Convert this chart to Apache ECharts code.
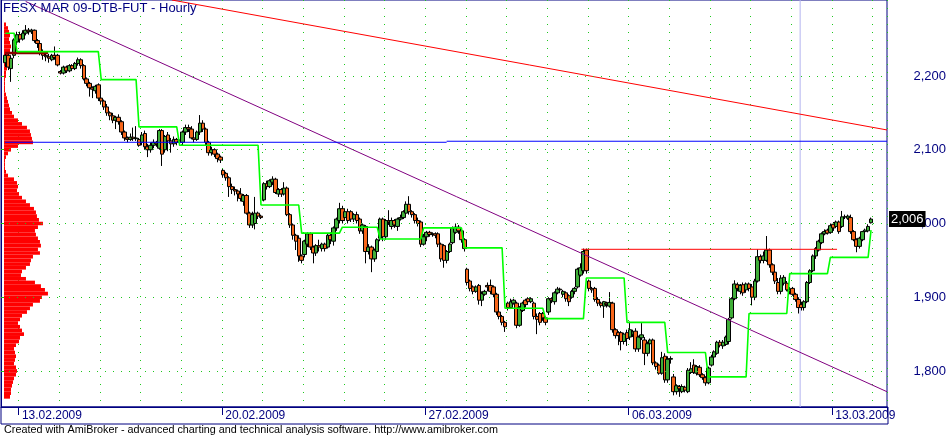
<!DOCTYPE html>
<html><head><meta charset="utf-8">
<script src="https://cdn.jsdelivr.net/npm/echarts@6/dist/echarts.min.js"></script>
<style>html,body{margin:0;padding:0;background:#fff}#c{width:949px;height:437px}</style>
</head><body><div id="c"></div>
<script>
// ---------- DATA ----------
const days = ['12.02.2009','13.02.2009','16.02.2009','17.02.2009','18.02.2009','19.02.2009','20.02.2009','23.02.2009','24.02.2009','25.02.2009','26.02.2009','27.02.2009','02.03.2009','03.03.2009','04.03.2009','05.03.2009','06.03.2009','09.03.2009','10.03.2009','11.03.2009','12.03.2009','13.03.2009'];
const firstDayHours = ['17','18','19','20','21'];
const sessionHours = ['08','09','10','11','12','13','14','15','16','17','18','19','20','21'];
const labelledDays = ['13.02.2009','20.02.2009','27.02.2009','06.03.2009','13.03.2009'];
const gridLevels = [1800,1900,2000,2100,2200];

const opens = [
2218,2228,2210,2228,2246,
2256,2250,2258,2262,2260,2262,2248,2244,2232,2228,2226,2222,2228,2228,
2206,2204,2212,2207,2214,2210,2217,2222,2214,2196,2190,2184,2180,2188,
2170,2166,2158,2150,2146,2140,2144,2138,2124,2116,2114,2117,2115,2114,
2110,2122,2104,2100,2106,2110,2102,2126,2100,2120,2112,2108,2114,2110,
2110,2124,2130,2128,2116,2114,2124,2136,2128,2110,2096,2100,2094,2090,
2072,2068,2062,2050,2046,2044,2040,2030,2038,2014,1998,2000,2014,2010,
2032,2054,2050,2056,2060,2040,2046,2040,2048,2012,1998,1984,1980,1956,
1958,1972,1986,1968,1960,1970,1966,1972,1968,1984,1976,1994,2004,2020,
2008,2016,2016,2006,2012,2006,1990,1996,1962,1968,1952,1962,1980,2006,
1982,2004,1996,2004,1996,2006,2008,2014,2026,2016,2012,2004,2002,1972,
1982,1988,1985,1986,1986,1972,1970,1950,1962,1974,1988,1995,1990,1978,
1938,1922,1914,1908,1916,1896,1904,1916,1916,1914,1904,1880,1874,1866,
1892,1886,1892,1892,1862,1882,1896,1898,1894,1892,1874,1878,1878,1872,
1880,1898,1894,1906,1911,1904,1906,1902,1900,1908,1914,1930,1936,1964,
1922,1912,1912,1897,1892,1888,1892,1888,1892,1856,1852,1852,1840,1852,
1846,1850,1854,1830,1845,1842,1824,1837,1842,1811,1808,1797,1820,1788,
1816,1792,1772,1779,1772,1778,1772,1798,1808,1797,1805,1795,1791,1784,
1808,1819,1824,1839,1834,1836,1840,1872,1898,1917,1908,1917,1910,1918,
1914,1900,1922,1955,1950,1950,1964,1944,1934,1920,1908,1919,1919,1910,
1912,1904,1897,1890,1886,1894,1920,1936,1956,1964,1974,1986,1991,1988,
1999,1996,2002,1996,2009,2007,2008,1989,1978,1969,1978,1989,1990,2001];
const highs = [
2230,2232,2226,2251,2260,
2260,2262,2269,2265,2264,2263,2250,2246,2236,2232,2230,2230,2240,2230,
2208,2214,2214,2216,2216,2219,2225,2224,2216,2198,2192,2186,2188,2190,
2172,2168,2162,2152,2150,2146,2148,2140,2126,2118,2122,2130,2132,2116,
2124,2126,2108,2110,2114,2112,2128,2128,2120,2124,2116,2118,2116,2114,
2126,2134,2134,2132,2120,2126,2147,2140,2130,2112,2104,2102,2096,2092,
2074,2070,2064,2054,2050,2046,2048,2040,2040,2016,2016,2036,2016,2012,
2056,2058,2060,2064,2062,2048,2048,2056,2050,2014,2000,1986,1984,1958,
1978,1988,1988,1970,1972,1978,1974,1974,1986,1988,1996,2008,2028,2024,
2018,2020,2018,2014,2016,2008,2000,1998,1972,1970,1966,1980,2008,2008,
2006,2018,2008,2006,2008,2012,2018,2030,2037,2018,2014,2008,2004,1986,
1990,1990,1988,1988,1988,1974,1972,1964,1974,1996,2000,1998,1992,1980,
1940,1924,1916,1916,1918,1908,1910,1920,1924,1916,1906,1882,1876,1868,
1894,1898,1898,1894,1888,1894,1898,1900,1900,1894,1878,1880,1880,1874,
1900,1900,1908,1914,1913,1910,1908,1904,1910,1914,1940,1946,1966,1966,
1924,1914,1914,1900,1894,1895,1894,1907,1894,1858,1854,1854,1852,1856,
1867,1856,1858,1848,1865,1846,1840,1844,1844,1813,1810,1826,1824,1820,
1820,1796,1782,1781,1782,1780,1804,1812,1816,1808,1808,1797,1793,1806,
1822,1828,1841,1842,1842,1848,1872,1900,1923,1920,1918,1920,1920,1920,
1918,1925,1965,1958,1962,1983,1966,1946,1936,1926,1930,1930,1922,1914,
1914,1906,1900,1894,1896,1922,1938,1958,1968,1978,1988,1992,1993,2000,
2002,2004,2004,2017,2012,2012,2012,1991,1980,1982,1990,1993,1999,2008];
const lows = [
2212,2208,2192,2224,2242,
2245,2248,2255,2256,2257,2245,2238,2228,2222,2220,2218,2220,2222,2213,
2202,2202,2204,2205,2207,2208,2214,2210,2194,2186,2172,2170,2176,2166,
2162,2154,2146,2140,2136,2128,2134,2120,2112,2110,2112,2112,2112,2104,
2106,2100,2090,2096,2102,2104,2100,2078,2096,2098,2096,2104,2106,2108,
2106,2120,2124,2114,2110,2112,2120,2124,2106,2092,2092,2090,2083,2082,
2062,2058,2036,2040,2038,2030,2030,2024,2012,1994,1994,1992,2006,2006,
2030,2046,2048,2052,2040,2036,2036,2038,2010,1994,1978,1964,1948,1946,
1954,1968,1964,1946,1956,1962,1962,1962,1966,1972,1970,1990,2000,2000,
2004,2000,2002,2002,2000,1986,1986,1946,1958,1934,1948,1958,1976,1976,
1978,1998,1992,1994,1990,2004,2006,2012,2012,2008,2000,1996,1968,1970,
1976,1982,1982,1980,1968,1948,1940,1946,1960,1972,1986,1986,1974,1962,
1916,1908,1904,1906,1890,1888,1902,1908,1904,1900,1876,1870,1862,1853,
1882,1884,1890,1858,1860,1880,1886,1890,1892,1870,1850,1862,1868,1862,
1876,1892,1890,1904,1906,1900,1894,1888,1898,1904,1912,1928,1932,1932,
1908,1906,1894,1888,1886,1872,1886,1886,1852,1844,1835,1828,1836,1834,
1842,1846,1826,1826,1842,1808,1820,1834,1808,1802,1795,1795,1784,1784,
1810,1767,1768,1765,1770,1771,1770,1796,1796,1794,1792,1788,1780,1782,
1806,1816,1822,1832,1830,1834,1836,1870,1896,1908,1904,1902,1906,1908,
1889,1896,1920,1946,1946,1948,1940,1930,1918,1904,1904,1916,1908,1904,
1902,1894,1878,1882,1882,1892,1918,1934,1952,1962,1972,1984,1985,1986,
1990,1994,1986,1994,2006,2005,1986,1976,1961,1966,1976,1986,1988,2000];
const closes = [
2228,2212,2224,2249,2256,
2250,2258,2262,2260,2262,2248,2244,2232,2228,2226,2224,2228,2225,2215,
2204,2212,2207,2214,2210,2217,2222,2214,2196,2190,2184,2182,2186,2170,
2166,2158,2150,2146,2140,2144,2138,2124,2116,2114,2117,2115,2116,2106,
2120,2104,2100,2106,2110,2108,2126,2094,2118,2112,2108,2114,2110,2112,
2124,2130,2128,2116,2114,2124,2136,2128,2110,2096,2100,2094,2088,2086,
2066,2062,2050,2046,2044,2040,2034,2038,2014,1998,2012,2014,2010,2008,
2054,2050,2058,2060,2042,2046,2040,2048,2012,1998,1984,1976,1956,1950,
1976,1986,1968,1960,1970,1968,1972,1966,1984,1978,1994,2006,2020,2004,
2016,2004,2006,2012,2004,1990,1998,1962,1968,1952,1964,1978,2006,1982,
2004,2002,2004,1998,2006,2008,2016,2026,2016,2012,2004,2000,1972,1982,
1988,1985,1986,1984,1972,1952,1950,1962,1972,1994,1995,1990,1978,1966,
1920,1912,1908,1914,1896,1905,1908,1914,1908,1904,1880,1874,1866,1860,
1886,1894,1896,1862,1886,1892,1890,1894,1898,1874,1870,1866,1872,1866,
1898,1896,1906,1911,1910,1908,1898,1894,1908,1912,1938,1940,1962,1936,
1912,1910,1897,1892,1889,1894,1890,1893,1856,1848,1848,1840,1850,1844,
1856,1853,1830,1846,1849,1824,1837,1842,1811,1806,1797,1818,1788,1816,
1817,1772,1780,1776,1779,1774,1801,1803,1798,1806,1795,1791,1784,1804,
1819,1826,1839,1835,1839,1846,1870,1898,1918,1912,1916,1906,1918,1912,
1900,1922,1955,1950,1956,1964,1944,1934,1922,1908,1926,1927,1910,1908,
1904,1897,1886,1886,1894,1920,1936,1956,1966,1976,1986,1989,1987,1997,
1994,2002,1989,2009,2009,2010,1989,1978,1969,1980,1989,1991,1996,2006];

// green step line: [bar index, level]
const stopVertices = [[0,2258],[3,2258],[4,2233],[32,2233],[33,2195],[45,2195],[46,2131],[59,2131],[60,2106],[87,2106],[88,2025],[101,2025],[102,1987],[115,1987],[116,1995],[128,1995],[129,1979],[143,1979],[144,1994],[157,1994],[158,1967],[171,1967],[172,1885],[185,1885],[186,1871],[199,1871],[200,1926],[213,1926],[214,1866],[227,1866],[228,1825],[241,1825],[242,1792],[255,1792],[256,1878],[269,1878],[270,1932],[283,1932],[284,1954],[297,1954],[298,1991]];

// drawn study lines: [slot position, price]
const redTrend = [[58.8,2303],[305,2126.8]];
const purpleTrend = [[8.5,2301],[305,1771.9]];
const blueLevelA = [[1.4,2110.1],[153.4,2110.1]];
const blueLevelB = [[153.4,2111.5],[305,2111.5]];
const maroonLevel = [[1.4,2231.3],[16.2,2231.3]];
const redLevel = [[199.8,1965],[287.8,1965]];
const cursorLine = [[275.1,1751.2],[275.1,2303]];

// volume-at-price profile
const profilePrices = [2270,2265,2260,2255,2250,2245,2240,2235,2230,2225,2220,2215,2210,2205,2200,2195,2190,2185,2180,2175,2170,2165,2160,2155,2150,2145,2140,2135,2130,2125,2120,2115,2110,2105,2100,2095,2090,2085,2080,2075,2070,2065,2060,2055,2050,2045,2040,2035,2030,2025,2020,2015,2010,2005,2000,1995,1990,1985,1980,1975,1970,1965,1960,1955,1950,1945,1940,1935,1930,1925,1920,1915,1910,1905,1900,1895,1890,1885,1880,1875,1870,1865,1860,1855,1850,1845,1840,1835,1830,1825,1820,1815,1810,1805,1800,1795,1790,1785,1780,1775,1770,1765];
const profileVolume = [2,4,5,6,5,6,7,6,5,5,4,4,3,2,2,1,1,1,1,2,3,4,5,6,8,10,14,18,23,26,27,28,29,14,7,4,2,1,1,1,2,4,10,13,14,13,15,18,22,26,30,32,33,35,39,34,31,32,34,36,37,34,36,29,27,26,22,18,17,22,31,37,41,44,38,36,29,26,23,18,16,14,16,18,20,16,15,12,10,11,12,11,10,12,13,12,10,9,8,7,7,6];

const titleText = 'FESX MAR 09-DTB-FUT - Hourly';
const footerText = 'Created with AmiBroker - advanced charting and technical analysis software. http://www.amibroker.com';
const yMin = 1751.2, yMax = 2303;

// ---------- BUILD ----------
const FONT = '"Liberation Sans", Arial, sans-serif';
const NAVY = '#000080';
const GRIDGREEN = '#1ec81e';
const fmt = v => { const s = String(Math.round(v)); return s.length > 3 ? s.slice(0, s.length - 3) + ',' + s.slice(-3) : s; };

const categories = ['pad-start'];
const dayStart = {};
firstDayHours.forEach(h => categories.push(days[0] + ' ' + h + ':00'));
days.slice(1).forEach(d => { dayStart[d] = categories.length; sessionHours.forEach(h => categories.push(d + ' ' + h + ':00')); });
const endIdx = categories.length;
for (let k = 1; k <= 5; k++) categories.push('pad-end-' + k);
const N = categories.length;
const splitIdx = new Set(Object.values(dayStart).concat([endIdx]));
const labelIdx = new Set(labelledDays.map(d => dayStart[d]));

const candleData = [['-','-','-','-']];
for (let i = 0; i < opens.length; i++) candleData.push([opens[i], closes[i], lows[i], highs[i]]);
const stopData = stopVertices.map(([b, v]) => [b + 1, v]);
const profileData = profilePrices.map((p, i) => [p, profileVolume[i]]);
const halfStep = (profilePrices[0] - profilePrices[1]) / 2;

const studyLine = (data, color, width, z) => ({
  type: 'line', xAxisIndex: 1, yAxisIndex: 0, data, showSymbol: false, symbol: 'none', silent: true, z,
  lineStyle: { color, width }, animation: false
});

const chart = echarts.init(document.getElementById('c'), null, { renderer: 'canvas' });
chart.setOption({
  animation: false,
  textStyle: { fontFamily: FONT },
  title: [
    { text: titleText, left: 3, top: 2, padding: 0, textStyle: { fontFamily: FONT, fontSize: 13, fontWeight: 'normal', color: NAVY } },
    { text: footerText, left: 4, top: 425, padding: 0, textStyle: { fontFamily: FONT, fontSize: 10.8, fontWeight: 'normal', color: '#000' } }
  ],
  grid: { left: 1, top: 0, width: 887, height: 407, show: true, borderColor: NAVY, borderWidth: 1, backgroundColor: 'transparent' },
  graphic: [{ type: 'rect', silent: true, shape: { x: 1, y: 407, width: 887, height: 17 }, style: { fill: 'none', stroke: NAVY, lineWidth: 1 } }],
  xAxis: [
    { type: 'category', data: categories, boundaryGap: true,
      axisLine: { show: true, lineStyle: { color: NAVY } },
      axisTick: { show: true, interval: (i) => labelIdx.has(i), length: 8, alignWithLabel: false, lineStyle: { color: NAVY } },
      axisLabel: { interval: (i) => labelIdx.has(i), formatter: v => v.split(' ')[0], align: 'left', margin: 3, padding: [0,0,0,2], color: NAVY, fontSize: 12, fontFamily: FONT },
      splitLine: { show: true, interval: (i) => splitIdx.has(i), lineStyle: { color: GRIDGREEN, type: [1, 7], width: 1 } } },
    { type: 'value', min: 0, max: N, show: false },
    { type: 'value', min: -3, max: 884, show: false }
  ],
  yAxis: [{
    type: 'value', position: 'right', min: yMin, max: yMax,
    axisLine: { show: true, lineStyle: { color: NAVY } },
    axisTick: { show: true, length: 5, customValues: gridLevels, lineStyle: { color: GRIDGREEN } },
    axisLabel: { customValues: gridLevels, formatter: v => gridLevels.includes(v) ? fmt(v) : '', align: 'right', margin: 59, color: NAVY, fontSize: 13, fontFamily: FONT },
    splitLine: { show: false }
  }],
  series: [
    { type: 'line', data: [], z: 0, silent: true,
      markLine: { silent: true, symbol: 'none', animation: false, label: { show: false },
        lineStyle: { color: GRIDGREEN, type: [1, 7], width: 1 },
        data: gridLevels.map(v => ({ yAxis: v })) } },
    { type: 'custom', xAxisIndex: 2, yAxisIndex: 0, data: profileData, z: 1, silent: true,
      encode: { x: 1, y: 0 },
      renderItem: (params, api) => {
        const p = api.value(0), vol = api.value(1);
        const a = api.coord([0, p + halfStep]);
        const b = api.coord([vol, p - halfStep]);
        return { type: 'rect', shape: { x: a[0], y: a[1], width: b[0] - a[0], height: b[1] - a[1] }, style: { fill: '#ff0000' } };
      } },
    studyLine(cursorLine, '#b4b4f0', 1, 1),
    { type: 'candlestick', xAxisIndex: 0, yAxisIndex: 0, data: candleData, barWidth: 4, z: 2,
      itemStyle: { color: '#3fae38', color0: '#f7661a', borderColor: '#000', borderColor0: '#000', borderWidth: 1 },
      markLine: { silent: true, symbol: 'none', animation: false,
        data: [{ yAxis: closes[closes.length - 1] }],
        lineStyle: { color: 'rgba(0,0,0,0)', width: 0 },
        label: { show: true, position: 'end', distance: 2, formatter: p => fmt(p.value), color: '#fff', backgroundColor: '#000', padding: [2, 2, 1, 2], fontSize: 13, fontFamily: FONT } } },
    studyLine(redTrend, '#ff0000', 1, 3),
    studyLine(purpleTrend, '#800080', 1, 3),
    studyLine(blueLevelA, '#0000ff', 1, 3),
    studyLine(blueLevelB, '#0000ff', 1, 3),
    studyLine(maroonLevel, '#8b0000', 2.5, 3),
    studyLine(redLevel, '#ff0000', 1, 3),
    { type: 'line', xAxisIndex: 0, yAxisIndex: 0, data: stopData, showSymbol: false, symbol: 'none', silent: true, z: 3,
      lineStyle: { color: '#00ff00', width: 1.6 } }
  ]
});
</script></body></html>
